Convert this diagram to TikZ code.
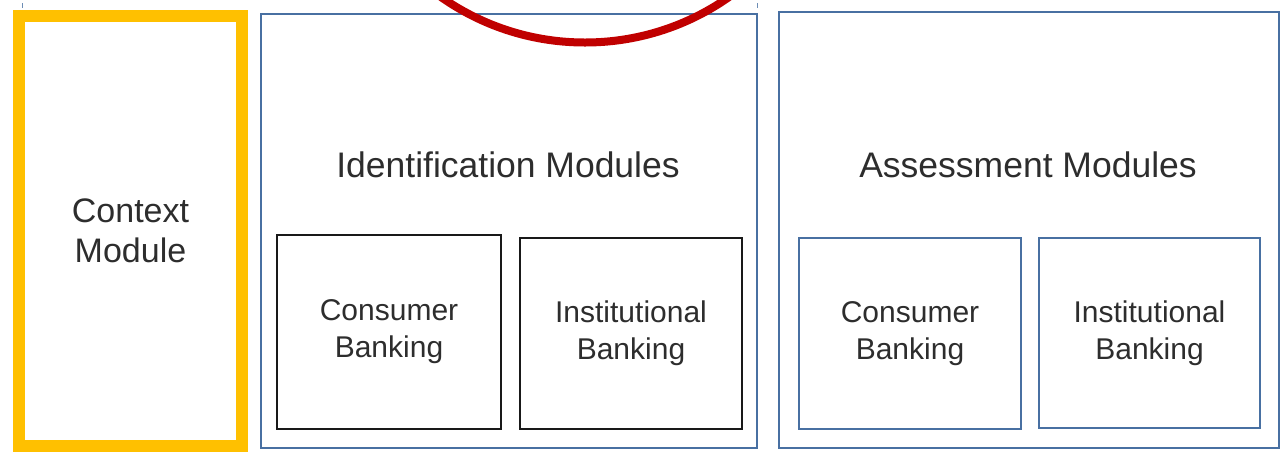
\documentclass[tikz,border=0pt]{standalone}
\usepackage{fontspec}
\setmainfont{Liberation Sans}
\definecolor{ctxyellow}{RGB}{255,192,0}
\definecolor{modblue}{RGB}{72,112,162}
\definecolor{circred}{RGB}{192,0,0}
\definecolor{txtgray}{RGB}{45,45,45}
\begin{document}
\begin{tikzpicture}[x=1pt,y=-1pt,
  ctxbox/.style={draw=ctxyellow,line width=12pt,inner sep=0pt,
    text=txtgray,align=center,font=\fontsize{34}{40}\selectfont},
  bigbox/.style={draw=modblue,line width=2pt,inner sep=0pt},
  subblack/.style={draw=black!90,line width=2pt,inner sep=0pt,
    text=txtgray,align=center,font=\fontsize{30}{37}\selectfont},
  subblue/.style={draw=modblue,line width=2pt,inner sep=0pt,
    text=txtgray,align=center,font=\fontsize{30}{37}\selectfont},
  title/.style={anchor=base,text=txtgray,inner sep=0pt,font=\fontsize{35.5}{40}\selectfont},
  tick/.style={draw=modblue!80,line width=1.5pt}]
\useasboundingbox (0,0) rectangle (1281,451);
\clip (0,0) rectangle (1281,451);
% context module
\node[ctxbox,minimum width=223pt,minimum height=430pt] (ctx) at (130.5,231) {Context\\Module};
% identification modules
\node[bigbox,minimum width=496pt,minimum height=434pt] (idm) at (509,231) {};
\node[title] (idt) at (508,177) {Identification Modules};
\node[subblack,minimum width=224pt,minimum height=194pt] (idc) at (389,332) {Consumer\\Banking};
\node[subblack,minimum width=222pt,minimum height=191pt] (idi) at (631,333.5) {Institutional\\Banking};
% assessment modules
\node[bigbox,minimum width=500pt,minimum height=436pt] (asm) at (1029,230) {};
\node[title] (ast) at (1028,177) {Assessment Modules};
\node[subblue,minimum width=222pt,minimum height=191pt] (asc) at (910,333.5) {Consumer\\Banking};
\node[subblue,minimum width=221pt,minimum height=190pt] (asi) at (1149.5,333) {Institutional\\Banking};
% small tick marks at top
\coordinate (t1a) at (22.5,3); \coordinate (t1b) at (22.5,7.5);
\coordinate (t2a) at (757.5,3); \coordinate (t2b) at (757.5,7.5);
\draw[tick] (t1a) -- (t1b);
\draw[tick] (t2a) -- (t2b);
% red circle
\coordinate (cc) at (585,-208);
\draw[circred,line width=8pt] (cc) circle[radius=250.5pt];
\end{tikzpicture}
\end{document}
